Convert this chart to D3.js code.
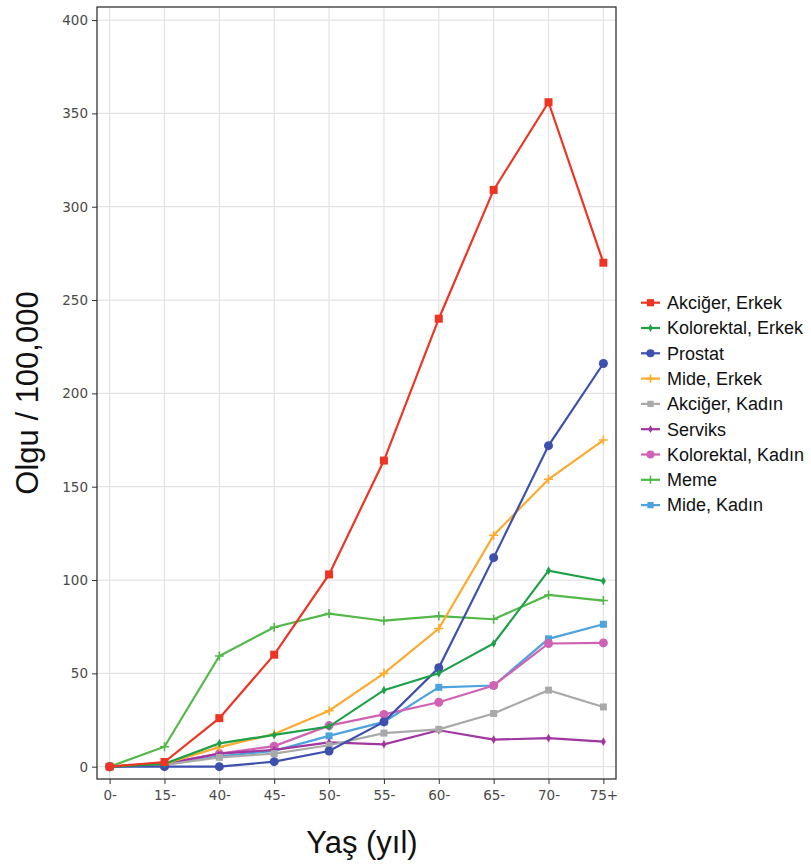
<!DOCTYPE html>
<html>
<head>
<meta charset="utf-8">
<script src="https://cdn.jsdelivr.net/npm/d3@7"></script>
<style>
  body { margin: 0; background: #fff; }
  svg { display: block; }
  .grid line { stroke: #e3e3e3; stroke-width: 1.2; }
  .axis text { font-family: "DejaVu Sans", sans-serif; font-size: 13.5px; fill: #4a4a4a; }
  .axis line { stroke: #333; }
  .axis path { display: none; }
  .title { font-family: "Liberation Sans", Arial, sans-serif; font-size: 31px; fill: #111; }
  .legend text { font-family: "Liberation Sans", Arial, sans-serif; font-size: 18px; fill: #111; }
</style>
</head>
<body>
<svg id="chart"></svg>
<script>
var ageGroups = ['0-', '15-', '40-', '45-', '50-', '55-', '60-', '65-', '70-', '75+'];
var yTicks = [0, 50, 100, 150, 200, 250, 300, 350, 400];

var seriesNames = ['Akciğer, Erkek', 'Kolorektal, Erkek', 'Prostat', 'Mide, Erkek',
  'Akciğer, Kadın', 'Serviks', 'Kolorektal, Kadın', 'Meme', 'Mide, Kadın'];

var akcigerErkek    = [0, 2.5, 26, 60, 103, 164, 240, 309, 356, 270];
var kolorektalErkek = [0, 1.5, 12.5, 17, 21.5, 41, 50, 66, 105, 99.5];
var prostat         = [0, 0, 0, 2.7, 8.4, 24, 53, 112, 172, 216];
var mideErkek       = [0, 1.5, 10.5, 17.5, 30, 50, 74, 124, 154, 175];
var akcigerKadin    = [0, 1, 5, 7, 11.5, 18, 20, 28.5, 41, 32];
var serviks         = [0, 1.5, 7, 9, 13, 12, 19.5, 14.5, 15.3, 13.4];
var kolorektalKadin = [0, 1.5, 7, 11, 22, 28, 34.5, 43.5, 66, 66.3];
var meme            = [0, 10.7, 59.3, 74.7, 82, 78.2, 80.7, 79, 92, 89];
var mideKadin       = [0, 1, 5.5, 8.5, 16.5, 24, 42.5, 43.5, 68.5, 76.3];

var seriesValues = [akcigerErkek, kolorektalErkek, prostat, mideErkek,
  akcigerKadin, serviks, kolorektalKadin, meme, mideKadin];
var colors = ['#EE3524', '#1DA047', '#3E50AE', '#FDAA2E', '#A9A9A9',
  '#A0369F', '#D062B4', '#52B848', '#4DA3DD'];
var shapes = ['square', 'diamond', 'circle', 'plus', 'square', 'diamond', 'circle', 'plus', 'square'];
var markerSizes = [8, 6, 9, 9, 7, 6, 9, 9, 7];

var W = 811, H = 864;
var margin = { top: 7, right: 195, bottom: 85, left: 97 };
var width = 616 - margin.left;
var height = 779 - margin.top;

var svg = d3.select('#chart').attr('width', W).attr('height', H);
var chart = svg.append('g').attr('transform', `translate(${margin.left},${margin.top})`);

var x = d3.scalePoint().domain(ageGroups).range([0, width]).padding(0.23);
var y = d3.scaleLinear().domain([-6.6, 407]).range([height, 0]);

// grid
var grid = chart.append('g').attr('class', 'grid');
grid.selectAll('.gx').data(ageGroups).enter().append('line')
  .attr('x1', d => x(d)).attr('x2', d => x(d)).attr('y1', 0).attr('y2', height);
grid.selectAll('.gy').data(yTicks).enter().append('line')
  .attr('x1', 0).attr('x2', width).attr('y1', d => y(d)).attr('y2', d => y(d));

// axes
chart.append('g').attr('class', 'axis x')
  .attr('transform', `translate(0,${height})`)
  .call(d3.axisBottom(x).tickSize(5).tickPadding(6));
chart.append('g').attr('class', 'axis y')
  .call(d3.axisLeft(y).tickValues(yTicks).tickSize(5).tickPadding(4));

var shapeSymbol = {
  square: d3.symbolSquare,
  diamond: d3.symbolDiamond,
  circle: d3.symbolCircle,
  plus: d3.symbolCross
};

function markerPath(shape, size) {
  if (shape === 'plus') {
    var h = size / 2;
    return `M${-h},0H${h}M0,${-h}V${h}`;
  }
  if (shape === 'square') return d3.symbol(shapeSymbol.square, size * size)();
  if (shape === 'circle') return d3.symbol(shapeSymbol.circle, Math.PI * size * size / 4)();
  return d3.symbol(shapeSymbol.diamond, size * size * 0.6)();
}

function drawMarker(g, shape, size, color) {
  var p = g.append('path').attr('d', markerPath(shape, size));
  if (shape === 'plus') p.attr('fill', 'none').attr('stroke', color).attr('stroke-width', 1.6);
  else p.attr('fill', color);
  return p;
}

var line = d3.line().x((d, i) => x(ageGroups[i])).y(d => y(d));

// draw in reverse so first series is on top
var order = d3.range(seriesNames.length).reverse();
order.forEach(function (k) {
  var g = chart.append('g');
  g.append('path')
    .datum(seriesValues[k])
    .attr('fill', 'none')
    .attr('stroke', colors[k])
    .attr('stroke-width', 2.2)
    .attr('d', line);
  seriesValues[k].forEach(function (v, i) {
    var m = g.append('g').attr('transform', `translate(${x(ageGroups[i])},${y(v)})`);
    drawMarker(m, shapes[k], markerSizes[k], colors[k]);
  });
});

// panel border
chart.append('rect')
  .attr('width', width).attr('height', height)
  .attr('fill', 'none').attr('stroke', '#333').attr('stroke-width', 1.3);

// titles
svg.append('text').attr('class', 'title')
  .attr('x', 362).attr('y', 853)
  .attr('text-anchor', 'middle')
  .text('Yaş (yıl)');
svg.append('text').attr('class', 'title')
  .attr('transform', 'translate(38,393) rotate(-90)')
  .attr('text-anchor', 'middle')
  .text('Olgu / 100,000');

// legend
var legend = svg.append('g').attr('class', 'legend')
  .attr('transform', 'translate(641,302.7)');
seriesNames.forEach(function (name, k) {
  var row = legend.append('g').attr('transform', `translate(0,${k * 25.3})`);
  row.append('line').attr('x1', 0).attr('x2', 19).attr('y1', 0).attr('y2', 0)
    .attr('stroke', colors[k]).attr('stroke-width', 2.2);
  var m = row.append('g').attr('transform', 'translate(9.5,0)');
  drawMarker(m, shapes[k], markerSizes[k] * 0.9, colors[k]);
  row.append('text').attr('x', 26).attr('y', 0).attr('dy', '0.35em').text(name);
});
</script>
</body>
</html>
